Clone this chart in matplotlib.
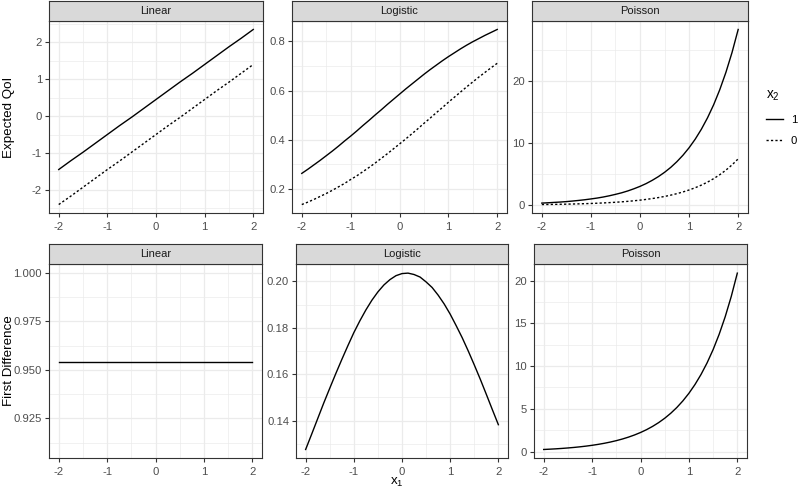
import matplotlib
matplotlib.use("Agg")
import matplotlib.pyplot as plt
from matplotlib.ticker import AutoMinorLocator, FixedLocator
from matplotlib.lines import Line2D

plt.rcParams['font.family'] = ['Liberation Sans', 'DejaVu Sans']
plt.rcParams['mathtext.default'] = 'regular'
plt.rcParams['axes.unicode_minus'] = False

# x1 grid for the straight lines (linear model)
x_lin = [-2, -1.75, -1.5, -1.25, -1, -0.75, -0.5, -0.25, 0,
         0.25, 0.5, 0.75, 1, 1.25, 1.5, 1.75, 2]
# finer x1 grid for the curved ones
x_fine = [-2, -1.875, -1.75, -1.625, -1.5, -1.375, -1.25, -1.125, -1,
          -0.875, -0.75, -0.625, -0.5, -0.375, -0.25, -0.125, 0,
          0.125, 0.25, 0.375, 0.5, 0.625, 0.75, 0.875, 1,
          1.125, 1.25, 1.375, 1.5, 1.625, 1.75, 1.875, 2]

# expected values, x2 = 1 and x2 = 0
lin_1 = [-1.45, -1.21, -0.98, -0.74, -0.50, -0.26, -0.03, 0.21, 0.45,
         0.69, 0.93, 1.16, 1.40, 1.64, 1.88, 2.11, 2.35]
lin_0 = [-2.40, -2.17, -1.93, -1.69, -1.45, -1.22, -0.98, -0.74, -0.50,
         -0.26, -0.03, 0.21, 0.45, 0.69, 0.92, 1.16, 1.40]
logit_1 = [0.262, 0.279, 0.297, 0.315, 0.334, 0.353, 0.373, 0.394, 0.414,
           0.435, 0.457, 0.478, 0.500, 0.521, 0.543, 0.564, 0.585,
           0.606, 0.626, 0.646, 0.666, 0.685, 0.703, 0.721, 0.738,
           0.754, 0.770, 0.785, 0.799, 0.812, 0.825, 0.837, 0.849]
logit_0 = [0.135, 0.145, 0.156, 0.168, 0.180, 0.193, 0.207, 0.221, 0.237,
           0.252, 0.269, 0.286, 0.304, 0.323, 0.342, 0.362, 0.382,
           0.402, 0.423, 0.444, 0.466, 0.487, 0.509, 0.530, 0.552,
           0.573, 0.594, 0.615, 0.635, 0.655, 0.674, 0.693, 0.711]
pois_1 = [0.32, 0.37, 0.43, 0.49, 0.56, 0.65, 0.75, 0.86, 0.99,
          1.13, 1.30, 1.50, 1.73, 1.98, 2.28, 2.63, 3.02,
          3.47, 4.00, 4.60, 5.29, 6.08, 7.00, 8.05, 9.26,
          10.65, 12.25, 14.09, 16.20, 18.64, 21.44, 24.66, 28.37]
pois_0 = [0.085, 0.097, 0.112, 0.129, 0.148, 0.170, 0.196, 0.226, 0.259,
          0.298, 0.343, 0.395, 0.454, 0.522, 0.601, 0.691, 0.795,
          0.915, 1.052, 1.210, 1.392, 1.601, 1.842, 2.118, 2.437,
          2.803, 3.224, 3.708, 4.266, 4.907, 5.644, 6.492, 7.468]

# first differences
fd_lin = [0.954, 0.954, 0.954, 0.954, 0.954, 0.954, 0.954, 0.954, 0.954,
          0.954, 0.954, 0.954, 0.954, 0.954, 0.954, 0.954, 0.954]
fd_logit = [0.1275, 0.1341, 0.1408, 0.1475, 0.1539, 0.1602, 0.1663, 0.1722, 0.1779,
            0.1830, 0.1877, 0.1919, 0.1955, 0.1985, 0.2008, 0.2025, 0.2034,
            0.2036, 0.2030, 0.2019, 0.1998, 0.1974, 0.1941, 0.1903, 0.1859,
            0.1809, 0.1757, 0.1700, 0.1640, 0.1578, 0.1513, 0.1447, 0.1382]
fd_pois = [0.237, 0.273, 0.313, 0.360, 0.415, 0.477, 0.549, 0.631, 0.726,
           0.835, 0.961, 1.105, 1.271, 1.462, 1.682, 1.934, 2.225,
           2.559, 2.944, 3.386, 3.895, 4.481, 5.154, 5.929, 6.819,
           7.844, 9.023, 10.379, 11.939, 13.733, 15.796, 18.170, 20.900]

models = ["Linear", "Logistic", "Poisson"]
x_ticks = [-2, -1, 0, 1, 2]
top_yticks = [[-2, -1, 0, 1, 2], [0.2, 0.4, 0.6, 0.8], [0, 10, 20]]
top_yfmt = ["{:g}", "{:.1f}", "{:g}"]
bot_yticks = [[0.925, 0.950, 0.975, 1.000], [0.14, 0.16, 0.18, 0.20], [0, 5, 10, 15, 20]]
bot_yfmt = ["{:.3f}", "{:.2f}", "{:g}"]

W, H = 800, 488
fig = plt.figure(figsize=(W / 100, H / 100), dpi=100)

GRID = '#EBEBEB'
DARK = '#333333'


def px_axes(x0, x1_, ytop, ybot):
    return [x0 / W, 1 - ybot / H, (x1_ - x0) / W, (ybot - ytop) / H]


def panel(cols, ytop, ybot, strip_top, title, yticks, yfmt):
    ax = fig.add_axes(px_axes(cols[0], cols[1], ytop, ybot))
    ax.set_facecolor('white')
    for s in ax.spines.values():
        s.set_color(DARK)
        s.set_linewidth(0.8)
    ax.set_xticks(x_ticks)
    ax.set_xticklabels([str(t) for t in x_ticks])
    ax.yaxis.set_major_locator(FixedLocator(yticks))
    ax.set_yticklabels([yfmt.format(t) for t in yticks])
    ax.xaxis.set_minor_locator(AutoMinorLocator(2))
    ax.yaxis.set_minor_locator(AutoMinorLocator(2))
    ax.tick_params(which='major', length=3, width=0.8, color=DARK,
                   labelsize=8.1, labelcolor='#4D4D4D', pad=2)
    ax.tick_params(axis='x', which='major', pad=3)
    ax.tick_params(which='minor', length=0)
    ax.grid(which='major', color=GRID, lw=0.9)
    ax.grid(which='minor', color=GRID, lw=0.5)
    ax.set_axisbelow(True)
    st = fig.add_axes(px_axes(cols[0], cols[1], strip_top, ytop))
    st.set_facecolor('#D9D9D9')
    st.set_xticks([])
    st.set_yticks([])
    for s in st.spines.values():
        s.set_color(DARK)
        s.set_linewidth(0.8)
    st.text(0.5, 0.5, title, ha='center', va='center', fontsize=8.0,
            color='#1A1A1A', transform=st.transAxes)
    return ax


top_cols = [(49, 263), (292, 507), (532, 748)]
bot_cols = [(49, 262), (296, 508), (534, 747)]

top_data = [(x_lin, lin_1, lin_0), (x_fine, logit_1, logit_0), (x_fine, pois_1, pois_0)]
bot_data = [(x_lin, fd_lin), (x_fine, fd_logit), (x_fine, fd_pois)]

for i, m in enumerate(models):
    ax = panel(top_cols[i], 20.7, 213.3, 1, m, top_yticks[i], top_yfmt[i])
    xs, y1, y0 = top_data[i]
    ax.plot(xs, y1, color='black', lw=1.0)
    ax.plot(xs, y0, color='black', lw=1.0, dashes=(1.6, 1.6))
    ax.set_xlim(-2.2, 2.2)

for i, m in enumerate(models):
    ax = panel(bot_cols[i], 264.3, 458.3, 244, m, bot_yticks[i], bot_yfmt[i])
    xs, yd = bot_data[i]
    ax.plot(xs, yd, color='black', lw=1.0)
    ax.set_xlim(-2.2, 2.2)
    if m == "Linear":
        ax.set_ylim(0.9044, 1.0044)

fig.text(9 / W, 1 - 117 / H, "Expected QoI", rotation=90, ha='center',
         va='center', fontsize=9.6, color='black')
fig.text(9 / W, 1 - 361 / H, "First Difference", rotation=90, ha='center',
         va='center', fontsize=9.6, color='black')
fig.text(397 / W, 1 - 484.5 / H, r"$x_1$", ha='center', va='baseline',
         fontsize=9.6, color='black')

handles = [Line2D([], [], color='black', lw=1.0),
           Line2D([], [], color='black', lw=1.0, dashes=(1.6, 1.6))]
leg = fig.legend(handles, ["1", "0"], title=r"$x_2$", loc='upper left',
                 bbox_to_anchor=(766 / W, 1 - 88 / H), frameon=False,
                 fontsize=8.1, title_fontsize=9.8, handlelength=1.5,
                 handletextpad=0.7, labelspacing=1.0, borderaxespad=0,
                 borderpad=0)
leg._legend_box.align = 'left'

fig.savefig("out.png", dpi=100)
